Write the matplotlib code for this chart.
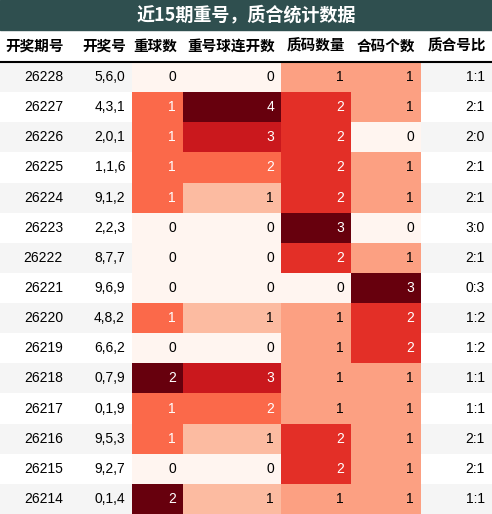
import matplotlib
matplotlib.use("Agg")
import matplotlib.pyplot as plt
from matplotlib.patches import Rectangle
from matplotlib import cm, colors

plt.rcParams['font.family'] = ['Liberation Sans', 'Noto Sans CJK SC', 'DejaVu Sans']

title = "近15期重号，质合统计数据"
headers = ["开奖期号", "开奖号", "重球数", "重号球连开数", "质码数量", "合码个数", "质合号比"]
periods = ["26228", "26227", "26226", "26225", "26224", "26223", "26222", "26221",
           "26220", "26219", "26218", "26217", "26216", "26215", "26214"]
numbers = ["5,6,0", "4,3,1", "2,0,1", "1,1,6", "9,1,2", "2,2,3", "8,7,7", "9,6,9",
           "4,8,2", "6,6,2", "0,7,9", "0,1,9", "9,5,3", "9,2,7", "0,1,4"]
repeat_cnt = [0, 1, 1, 1, 1, 0, 0, 0, 1, 0, 2, 1, 1, 0, 2]
streak_cnt = [0, 4, 3, 2, 1, 0, 0, 0, 1, 0, 3, 2, 1, 0, 1]
prime_cnt = [1, 2, 2, 2, 2, 3, 2, 0, 1, 1, 1, 1, 2, 2, 1]
composite_cnt = [1, 1, 0, 1, 1, 0, 1, 3, 2, 2, 1, 1, 1, 1, 1]
ratio = ["1:1", "2:1", "2:0", "2:1", "2:1", "3:0", "2:1", "0:3",
         "1:2", "1:2", "1:1", "1:1", "2:1", "2:1", "1:1"]

W, H = 492, 514
col_edges = [0, 70, 132, 183, 281, 351, 421, 492]
title_h, head_h = 30, 32
row_h = (H - title_h - head_h) / len(periods)

fig = plt.figure(figsize=(W / 100, H / 100), dpi=100)
ax = fig.add_axes([0, 0, 1, 1])
ax.set_xlim(0, W)
ax.set_ylim(H, 0)
ax.axis("off")

# title bar
ax.add_patch(Rectangle((0, 0), W, title_h, color="#2f4f4f"))
ax.text(W / 2, title_h / 2, title, color="white", fontsize=13, fontweight="bold",
        ha="center", va="center", family=['Noto Sans CJK SC', 'DejaVu Sans'])

# header
for i, h in enumerate(headers):
    ax.text(col_edges[i + 1] - 6, title_h + head_h / 2, h, fontsize=10.5, fontweight="bold",
            ha="right", va="center", family=['Noto Sans CJK SC', 'DejaVu Sans'])
ax.plot([0, W], [title_h + head_h, title_h + head_h], color="black", lw=1.5)

cmap = cm.get_cmap("Reds") if hasattr(cm, "get_cmap") else matplotlib.colormaps["Reds"]
heat_cols = {2: repeat_cnt, 3: streak_cnt, 4: prime_cnt, 5: composite_cnt}


def text_col(rgba):
    def lin(c):
        return c / 12.92 if c <= 0.04045 else ((c + 0.055) / 1.055) ** 2.4
    lum = 0.2126 * lin(rgba[0]) + 0.7152 * lin(rgba[1]) + 0.0722 * lin(rgba[2])
    return "white" if lum < 0.408 else "black"


for r in range(len(periods)):
    y0 = title_h + head_h + r * row_h
    bg = "#f5f5f5" if r % 2 == 0 else "white"
    ax.add_patch(Rectangle((0, y0), W, row_h, color=bg, lw=0))
    row_vals = [periods[r], numbers[r], repeat_cnt[r], streak_cnt[r],
                prime_cnt[r], composite_cnt[r], ratio[r]]
    for c, v in enumerate(row_vals):
        tc = "black"
        if c in heat_cols:
            vals = heat_cols[c]
            norm = colors.Normalize(min(vals), max(vals))
            rgba = cmap(norm(v))
            ax.add_patch(Rectangle((col_edges[c], y0), col_edges[c + 1] - col_edges[c],
                                   row_h, color=rgba, lw=0))
            tc = text_col(rgba)
        ax.text(col_edges[c + 1] - 7, y0 + row_h / 2, str(v), fontsize=10,
                ha="right", va="center", color=tc)

fig.savefig("out.png", dpi=100)
